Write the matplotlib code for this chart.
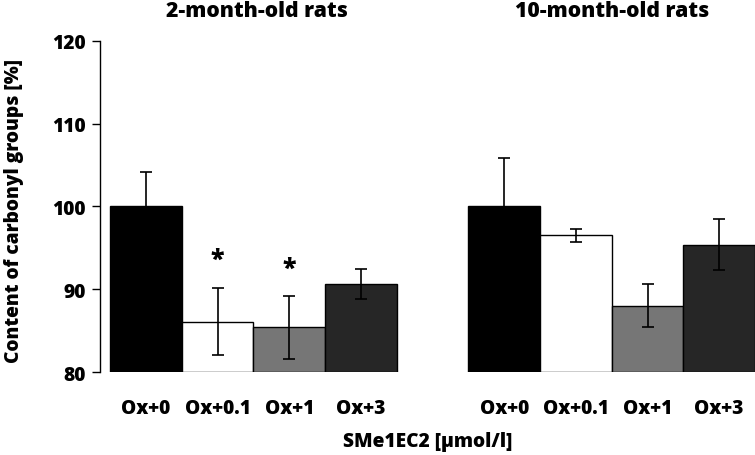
import matplotlib.pyplot as plt
import numpy as np

plt.rcParams['font.family'] = ['Open Sans', 'DejaVu Sans']
plt.rcParams['font.weight'] = 'heavy'

groups = ['2-month-old rats', '10-month-old rats']
doses = ['Ox+0', 'Ox+0.1', 'Ox+1', 'Ox+3']
young_mean = [100.0, 86.1, 85.4, 90.6]
young_err = [4.2, 4.1, 3.8, 1.8]
old_mean = [100.0, 96.5, 88.0, 95.4]
old_err = [5.8, 0.8, 2.6, 3.05]
# significance marks (group 0 only), y positions
star_idx = [1, 2]
star_y = [93.6, 92.5]

colors = ['#000000', '#ffffff', '#767676', '#262626']
fs = 13.8

fig = plt.figure(figsize=(7.55, 4.56), dpi=100)
ax = fig.add_axes([0.1325, 0.182, 0.8675, 0.726])

offsets = [0, 5]
centers = []
for off, means, errs in zip(offsets, [young_mean, old_mean], [young_err, old_err]):
    x = off + np.arange(4) + 0.5
    centers.extend(x)
    ax.bar(x, np.array(means) - 80, bottom=80, width=1.0, color=colors,
           edgecolor='black', linewidth=1.0, zorder=2)
    ax.errorbar(x, means, yerr=errs, fmt='none', ecolor='black',
                elinewidth=1.2, capsize=4, capthick=1.2, zorder=3)

for i, y in zip(star_idx, star_y):
    ax.text(i + 0.5, y, '*', ha='center', va='center', fontsize=18,
            fontweight='heavy')

ax.set_xlim(-0.14, 9.0)
ax.set_ylim(80, 120)
ax.set_yticks([80, 90, 100, 110, 120])
ax.tick_params(axis='y', direction='out', length=6, width=1, labelsize=fs, pad=4)
ax.set_xticks(centers)
ax.set_xticklabels(doses * 2, fontsize=fs, fontweight='heavy')
ax.tick_params(axis='x', length=0, pad=19)
for s in ['top', 'right', 'bottom']:
    ax.spines[s].set_visible(False)
ax.spines['left'].set_linewidth(1)

for g, cx in zip(groups, [2.05, 7.0]):
    ax.annotate(g, xy=(cx, 0.975), xycoords=('data', 'figure fraction'),
                ha='center', va='center', fontsize=15.2, fontweight='heavy')

fig.text(0.567, 0.03, 'SMe1EC2 [µmol/l]', ha='center', va='center',
         fontsize=fs, fontweight='heavy')
fig.text(0.018, 0.537, 'Content of carbonyl groups [%]', ha='center',
         va='center', rotation=90, fontsize=fs, fontweight='heavy')

fig.savefig('out.png', dpi=100)
